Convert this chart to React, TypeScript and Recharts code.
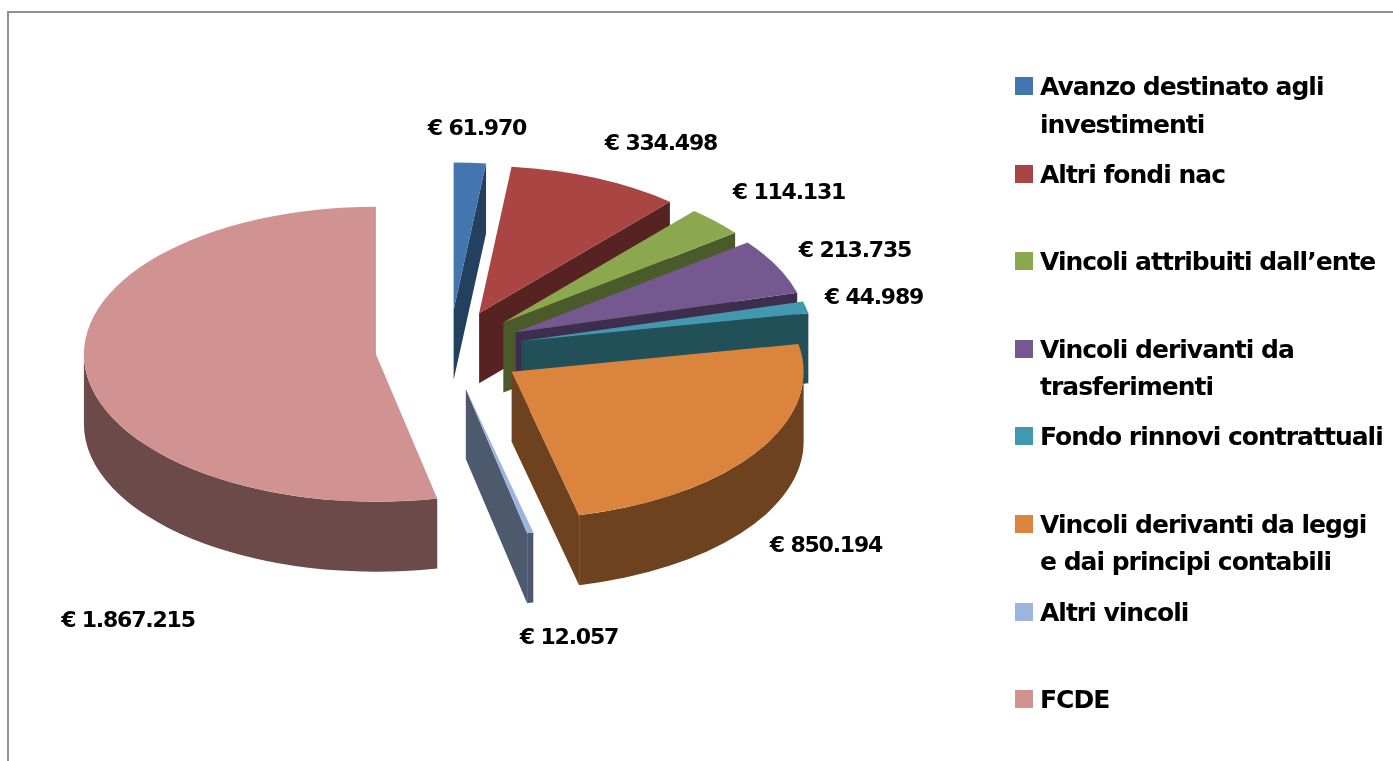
import { Legend, Pie, PieChart } from "recharts";

const categories = [
  "Avanzo destinato agli investimenti",
  "Altri fondi nac",
  "Vincoli attribuiti dall’ente",
  "Vincoli derivanti da trasferimenti",
  "Fondo rinnovi contrattuali",
  "Vincoli derivanti da leggi e dai principi contabili",
  "Altri vincoli",
  "FCDE",
];
const values = [61970, 334498, 114131, 213735, 44989, 850194, 12057, 1867215];
const topColors = ["#4376ae", "#a94643", "#8ba84f", "#74588f", "#4198af", "#db843d", "#9db5de", "#d19392"];
const wallColors = ["#24405f", "#562322", "#4b5a2a", "#3e2e4e", "#215059", "#6e421e", "#4d5a6e", "#6c4a4a"];

// where the value labels sit, same order as values
const labelX = [477, 661, 789, 855, 874, 826, 569, 128];
const labelY = [127, 142, 191, 249, 296, 544, 636, 619];

const CX = 449.5;
const CY = 350;
const RADIUS = 292;
const TILT = 0.505;
const DEPTH = 70;
const EXPLODE_X = 74;
const EXPLODE_Y = 40;

const rows = categories.map((name, i) => ({ name, value: values[i], fill: topColors[i], wall: wallColors[i] }));

const euro = (v: number) => "€ " + String(v).replace(/\B(?=(\d{3})+$)/g, ".");
const rad = (deg: number) => (deg * Math.PI) / 180;

// Recharts hands over flat angles, this tilts and explodes them into a 3D slice.
function Slice3D(props: any) {
  const { cx, cy, outerRadius: r, startAngle, endAngle, fill, wall } = props;
  const a0 = 90 - Math.max(startAngle, endAngle);
  const a1 = 90 - Math.min(startAngle, endAngle);
  const mid = (a0 + a1) / 2;
  const ox = cx + EXPLODE_X * Math.sin(rad(mid));
  const oy = cy - EXPLODE_Y * Math.cos(rad(mid));
  const pt = (a: number) => [ox + r * Math.sin(rad(a)), oy - r * TILT * Math.cos(rad(a))];
  const ry = r * TILT;

  const [sx, sy] = pt(a0);
  const [ex, ey] = pt(a1);
  const top = `M${ox},${oy} L${sx},${sy} A${r},${ry} 0 ${a1 - a0 > 180 ? 1 : 0} 1 ${ex},${ey} Z`;

  // cut faces look toward the viewer only on one side of the pie
  const face = (a: number) => {
    const [x, y] = pt(a);
    return `M${ox},${oy} L${x},${y} L${x},${y + DEPTH} L${ox},${oy + DEPTH} Z`;
  };

  // rim is only visible along the front half
  const f0 = Math.max(a0, 90);
  const f1 = Math.min(a1, 270);
  let rim = "";
  if (f1 > f0) {
    const [ax, ay] = pt(f0);
    const [bx, by] = pt(f1);
    rim = `M${ax},${ay} A${r},${ry} 0 0 1 ${bx},${by} L${bx},${by + DEPTH} A${r},${ry} 0 0 0 ${ax},${ay + DEPTH} Z`;
  }

  return (
    <g>
      {Math.sin(rad(a0)) < 0 && <path d={face(a0)} fill={wall} />}
      {Math.sin(rad(a1)) > 0 && <path d={face(a1)} fill={wall} />}
      {rim && <path d={rim} fill={wall} />}
      <path d={top} fill={fill} />
    </g>
  );
}

function ValueLabel(props: any) {
  const { index, value } = props;
  return (
    <text
      x={labelX[index]}
      y={labelY[index]}
      textAnchor="middle"
      dominantBaseline="central"
      fontFamily="'DejaVu Sans', sans-serif"
      fontWeight="bold"
      fontSize={22}
      letterSpacing={-1.2}
      fill="#000"
    >
      {euro(value)}
    </text>
  );
}

function LegendList({ payload }: any) {
  return (
    <div>
      {(payload ?? []).map((item: any) => (
        <div key={item.value} style={{ height: 87.6, display: "flex", alignItems: "flex-start" }}>
          <span style={{ width: 18, height: 18, marginTop: 9, marginRight: 7, flex: "none", background: item.color }} />
          <span style={{ fontSize: 25, lineHeight: "37.5px", fontWeight: "bold", fontFamily: "'DejaVu Sans', sans-serif", letterSpacing: -1, color: "#000", width: 345 }}>
            {item.value}
          </span>
        </div>
      ))}
    </div>
  );
}

export default function App() {
  return (
    <div style={{ position: "absolute", left: 0, top: 0, width: 1393, height: 761, overflow: "hidden", background: "#fff" }}>
      <div style={{ position: "absolute", left: 7, top: 11, width: 1500, height: 900, border: "2px solid #909090", boxSizing: "border-box" }} />
      <div style={{ position: "absolute", left: 0, top: 0, filter: "blur(0.6px)" }}>
        <PieChart width={1393} height={761} margin={{ top: 0, right: 0, bottom: 0, left: 0 }}>
          <Pie
            data={rows}
            dataKey="value"
            nameKey="name"
            cx={CX}
            cy={CY}
            outerRadius={RADIUS}
            startAngle={90}
            endAngle={-270}
            shape={Slice3D}
            label={ValueLabel}
            labelLine={false}
            isAnimationActive={false}
          />
          {/* vertical + center + middle keeps the legend from eating plot space */}
          <Legend
            layout="vertical"
            align="center"
            verticalAlign="middle"
            itemSorter={null}
            content={LegendList}
            wrapperStyle={{ position: "absolute", left: 1015, top: 68, width: 378 }}
          />
        </PieChart>
      </div>
    </div>
  );
}
